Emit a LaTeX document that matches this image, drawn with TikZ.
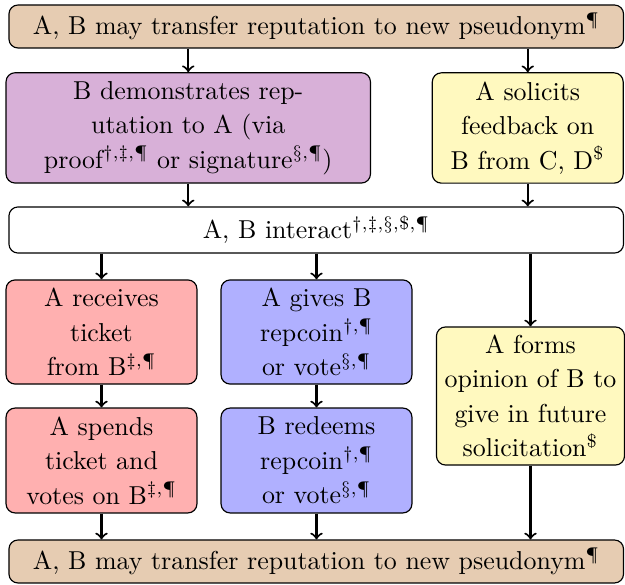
\documentclass[tikz,border=0pt]{standalone}
\usetikzlibrary{calc}
\definecolor{tanbox}{RGB}{230,204,178}
\definecolor{purplebox}{RGB}{216,176,216}
\definecolor{yellowbox}{RGB}{255,249,191}
\definecolor{redbox}{RGB}{255,176,176}
\definecolor{bluebox}{RGB}{176,176,255}
\tikzset{
  box/.style={draw, rounded corners=3.5pt, inner sep=0pt, align=center,
    font=\fontsize{10}{13.3}\selectfont, line width=0.45pt},
  wide/.style={box, minimum width=237.3pt, minimum height=16.6pt},
  col/.style={box, minimum width=73.7pt},
  flow/.style={->, line width=0.8pt}
}
\begin{document}
\begin{tikzpicture}[x=0.3861pt, y=-0.3861pt]
\useasboundingbox (0,0) rectangle (625,585);
\node[wide, fill=tanbox] (top) at (316.25,26.5) {A, B may transfer reputation to new pseudonym$^{\P}$};
\node[box, fill=purplebox, minimum width=140.7pt, minimum height=42.6pt] (demo) at (188.25,127.9)
  {B demonstrates rep-\\utation to A (via\\proof$^{\dagger,\ddagger,\P}$ or signature$^{\S,\P})$};
\node[col, fill=yellowbox, minimum height=42.6pt] (solicit) at (527.75,128)
  {A solicits\\feedback on\\B from C, D$^{\$}$};
\node[wide, fill=white, minimum height=17.8pt] (interact) at (316.25,230)
  {A, B interact$^{\dagger,\ddagger,\S,\$,\P}$};
\node[col, fill=redbox, minimum height=40.2pt] (receive) at (101.5,332)
  {A receives\\ticket\\from B$^{\ddagger,\P}$};
\node[col, fill=bluebox, minimum height=40.2pt] (give) at (316.5,332)
  {A gives B\\repcoin$^{\dagger,\P}$\\or vote$^{\S,\P}$};
\node[col, fill=yellowbox, minimum width=72.6pt, minimum height=53.3pt] (opinion) at (530.5,396)
  {A forms\\opinion of B to\\give in future\\solicitation$^{\$}$};
\node[col, fill=redbox, minimum height=40.5pt] (spend) at (101.5,460.5)
  {A spends\\ticket and\\votes on B$^{\ddagger,\P}$};
\node[col, fill=bluebox, minimum height=40.5pt] (redeem) at (316.5,460.5)
  {B redeems\\repcoin$^{\dagger,\P}$\\or vote$^{\S,\P}$};
\node[wide, fill=tanbox] (bottom) at (316.25,561.5) {A, B may transfer reputation to new pseudonym$^{\P}$};

\draw[flow] (demo.north |- top.south) -- (demo.north);
\draw[flow] (solicit.north |- top.south) -- (solicit.north);
\draw[flow] (demo.south) -- (demo.south |- interact.north);
\draw[flow] (solicit.south) -- (solicit.south |- interact.north);
\draw[flow] (receive.north |- interact.south) -- (receive.north);
\draw[flow] (give.north |- interact.south) -- (give.north);
\draw[flow] (opinion.north |- interact.south) -- (opinion.north);
\draw[flow] (receive.south) -- (spend.north);
\draw[flow] (give.south) -- (redeem.north);
\draw[flow] (spend.south) -- (spend.south |- bottom.north);
\draw[flow] (redeem.south) -- (redeem.south |- bottom.north);
\draw[flow] (opinion.south) -- (opinion.south |- bottom.north);
\end{tikzpicture}
\end{document}
